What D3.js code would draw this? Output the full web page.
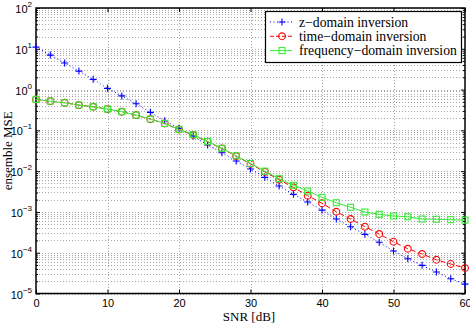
<!DOCTYPE html>
<html>
<head>
<meta charset="utf-8">
<script src="https://cdn.jsdelivr.net/npm/d3@7"></script>
<style>
  body { margin: 0; background: #fff; }
  svg { display: block; }
</style>
</head>
<body>
<div id="chart"></div>
<script>
const snr = [0, 2, 4, 6, 8, 10, 12, 14, 16, 18, 20, 22, 24, 26, 28, 30,
  32, 34, 36, 38, 40, 42, 44, 46, 48, 50, 52, 54, 56, 58, 60]

const zDomain = [11, 7.0, 4.5, 2.84, 1.78, 1.07, 0.70, 0.45, 0.276, 0.172, 0.112,
  0.0725, 0.0437, 0.0283, 0.0177, 0.0113, 0.00705, 0.00431, 0.0027, 0.00175,
  0.00111, 6.7e-4, 4.34e-4, 2.82e-4, 1.8e-4, 1.1e-4, 7.1e-5, 4.9e-5, 3.37e-5,
  2.3e-5, 1.7e-5]

const timeDomain = [0.57, 0.52, 0.475, 0.415, 0.378, 0.332, 0.285, 0.236, 0.188,
  0.147, 0.105, 0.077, 0.053, 0.0358, 0.0234, 0.0151, 0.0096, 0.0062, 0.0040,
  0.0025, 0.00163, 0.00101, 6.7e-4, 4.34e-4, 2.87e-4, 1.86e-4, 1.25e-4, 9.3e-5,
  6.7e-5, 5.3e-5, 4.2e-5]

const freqDomain = [0.575, 0.52, 0.475, 0.417, 0.379, 0.333, 0.286, 0.237, 0.189,
  0.148, 0.106, 0.078, 0.0537, 0.0362, 0.0238, 0.0155, 0.010, 0.00652, 0.00449,
  0.00325, 0.00228, 0.00168, 0.0013, 0.000995, 0.000873, 0.000794, 0.000762,
  0.00067, 0.00066, 0.000644, 0.00063]

const legendNames = ["z\u2212domain inversion", "time\u2212domain inversion", "frequency\u2212domain inversion"]
const xTicks = [0, 10, 20, 30, 40, 50, 60]
const yExponents = [-5, -4, -3, -2, -1, 0, 1, 2]

const W = 470, H = 324
const PLOT = { LEFT: 36, RIGHT: 465, TOP: 8, BOTTOM: 293.5 }

const svg = d3.select("#chart").append("svg")
  .attr("width", W)
  .attr("height", H)

const x = d3.scaleLinear().domain([0, 60]).range([PLOT.LEFT, PLOT.RIGHT])
const y = d3.scaleLog().domain([1e-5, 1e2]).range([PLOT.BOTTOM, PLOT.TOP])

// minor decade positions (2..9 x 10^e)
const yMajors = yExponents.map(e => Math.pow(10, e))
const yMinors = []
yExponents.slice(0, -1).forEach(e => {
  for (let m = 2; m <= 9; m++) yMinors.push(m * Math.pow(10, e))
})

// grid
const grid = svg.append("g")
  .attr("stroke", "#a8a8a8")
  .attr("stroke-width", 1)
  .attr("stroke-dasharray", "1,2")
  .attr("shape-rendering", "crispEdges")

grid.selectAll(".hg")
  .data(yMajors.concat(yMinors))
  .enter().append("line")
    .attr("x1", PLOT.LEFT)
    .attr("x2", PLOT.RIGHT)
    .attr("y1", d => Math.round(y(d)) + 0.5)
    .attr("y2", d => Math.round(y(d)) + 0.5)

grid.selectAll(".vg")
  .data(xTicks.slice(1, -1))
  .enter().append("line")
    .attr("x1", d => Math.round(x(d)) + 0.5)
    .attr("x2", d => Math.round(x(d)) + 0.5)
    .attr("y1", PLOT.TOP)
    .attr("y2", PLOT.BOTTOM)

// axes (ticks pointing inward)
const axisFont = "'Liberation Sans', Arial, sans-serif"

const xAxis = svg.append("g")
  .attr("transform", `translate(0, ${PLOT.BOTTOM})`)
  .call(d3.axisBottom(x).tickValues(xTicks).tickSize(-4).tickPadding(6).tickSizeOuter(0))
xAxis.select(".domain").remove()
xAxis.selectAll("text")
  .attr("font-family", axisFont)
  .attr("font-size", 11)
  .attr("fill", "#000")

svg.append("g")
  .attr("transform", `translate(0, ${PLOT.TOP})`)
  .call(d3.axisTop(x).tickValues(xTicks).tickSize(-4).tickFormat("").tickSizeOuter(0))
  .select(".domain").remove()

const yAxisL = svg.append("g")
  .attr("transform", `translate(${PLOT.LEFT}, 0)`)
  .call(d3.axisLeft(y).tickValues(yMajors).tickSize(-4).tickFormat("").tickSizeOuter(0))
yAxisL.select(".domain").remove()
const yAxisLm = svg.append("g")
  .attr("transform", `translate(${PLOT.LEFT}, 0)`)
  .call(d3.axisLeft(y).tickValues(yMinors).tickSize(-2).tickFormat("").tickSizeOuter(0))
yAxisLm.select(".domain").remove()
const yAxisR = svg.append("g")
  .attr("transform", `translate(${PLOT.RIGHT}, 0)`)
  .call(d3.axisRight(y).tickValues(yMajors).tickSize(-4).tickFormat("").tickSizeOuter(0))
yAxisR.select(".domain").remove()
const yAxisRm = svg.append("g")
  .attr("transform", `translate(${PLOT.RIGHT}, 0)`)
  .call(d3.axisRight(y).tickValues(yMinors).tickSize(-2).tickFormat("").tickSizeOuter(0))
yAxisRm.select(".domain").remove()

// y tick labels as 10^e
const yLabels = svg.append("g")
  .attr("font-family", axisFont)
  .attr("fill", "#000")
yExponents.forEach(e => {
  const t = yLabels.append("text")
    .attr("x", 32)
    .attr("y", y(Math.pow(10, e)) + 5)
    .attr("text-anchor", "end")
  t.append("tspan").attr("font-size", 11).text("10")
  t.append("tspan").attr("font-size", 8).attr("dy", -6)
    .text(e < 0 ? "\u2212" + Math.abs(e) : String(e))
})

// frame
svg.append("rect")
  .attr("x", PLOT.LEFT)
  .attr("y", PLOT.TOP)
  .attr("width", PLOT.RIGHT - PLOT.LEFT)
  .attr("height", PLOT.BOTTOM - PLOT.TOP)
  .attr("fill", "none")
  .attr("stroke", "#000")
  .attr("stroke-width", 1.5)

// series
const plusPath = "M-3.5,0H3.5M0,-3.5V3.5"

function drawSeries(values, color, dash, marker) {
  const pts = snr.map((s, i) => [s, values[i]])
  const line = d3.line().x(d => x(d[0])).y(d => y(d[1]))
  svg.append("path")
    .datum(pts)
    .attr("d", line)
    .attr("fill", "none")
    .attr("stroke", color)
    .attr("stroke-width", 1)
    .attr("stroke-dasharray", dash)

  const g = svg.append("g")
    .attr("fill", "none")
    .attr("stroke", color)
    .attr("stroke-width", 1.1)
  const sel = g.selectAll("g").data(pts).enter().append("g")
    .attr("transform", d => `translate(${x(d[0])}, ${y(d[1])})`)
  addMarker(sel, marker)
}

function addMarker(sel, marker) {
  if (marker === "plus") {
    sel.append("path").attr("d", plusPath)
  } else if (marker === "circle") {
    sel.append("circle").attr("r", 3.4)
  } else {
    sel.append("rect").attr("x", -3).attr("y", -3).attr("width", 6).attr("height", 6)
  }
}

const styles = [
  { values: zDomain, color: "#0000ff", dash: "1,2.5", marker: "plus" },
  { values: timeDomain, color: "#ff0000", dash: "5,3", marker: "circle" },
  { values: freqDomain, color: "#33ee33", dash: null, marker: "square" }
]
styles.forEach(s => drawSeries(s.values, s.color, s.dash, s.marker))

// axis titles
const serif = "'Liberation Serif', 'Times New Roman', serif"
svg.append("text")
  .attr("x", 249)
  .attr("y", 321)
  .attr("text-anchor", "middle")
  .attr("font-family", serif)
  .attr("font-size", 13)
  .text("SNR [dB]")

svg.append("text")
  .attr("transform", `translate(12, ${(PLOT.TOP + PLOT.BOTTOM) / 2}) rotate(-90)`)
  .attr("text-anchor", "middle")
  .attr("font-family", serif)
  .attr("font-size", 13)
  .text("ensemble MSE")

// legend
const legend = svg.append("g")
legend.append("rect")
  .attr("x", 265.5)
  .attr("y", 11.5)
  .attr("width", 196)
  .attr("height", 51)
  .attr("fill", "#fff")
  .attr("stroke", "#000")
  .attr("stroke-width", 1.2)

styles.forEach((s, i) => {
  const cy = 22 + i * 14.3
  legend.append("line")
    .attr("x1", 270).attr("x2", 292)
    .attr("y1", cy).attr("y2", cy)
    .attr("stroke", s.color)
    .attr("stroke-width", 1)
    .attr("stroke-dasharray", s.dash === "5,3" ? "4,2" : s.dash)
  const m = legend.append("g")
    .attr("transform", `translate(282, ${cy})`)
    .attr("fill", "none")
    .attr("stroke", s.color)
    .attr("stroke-width", 1.1)
  addMarker(m, s.marker)
  legend.append("text")
    .attr("x", 299)
    .attr("y", cy + 4.5)
    .attr("font-family", serif)
    .attr("font-size", 13.7)
    .text(legendNames[i])
})
</script>
</body>
</html>
